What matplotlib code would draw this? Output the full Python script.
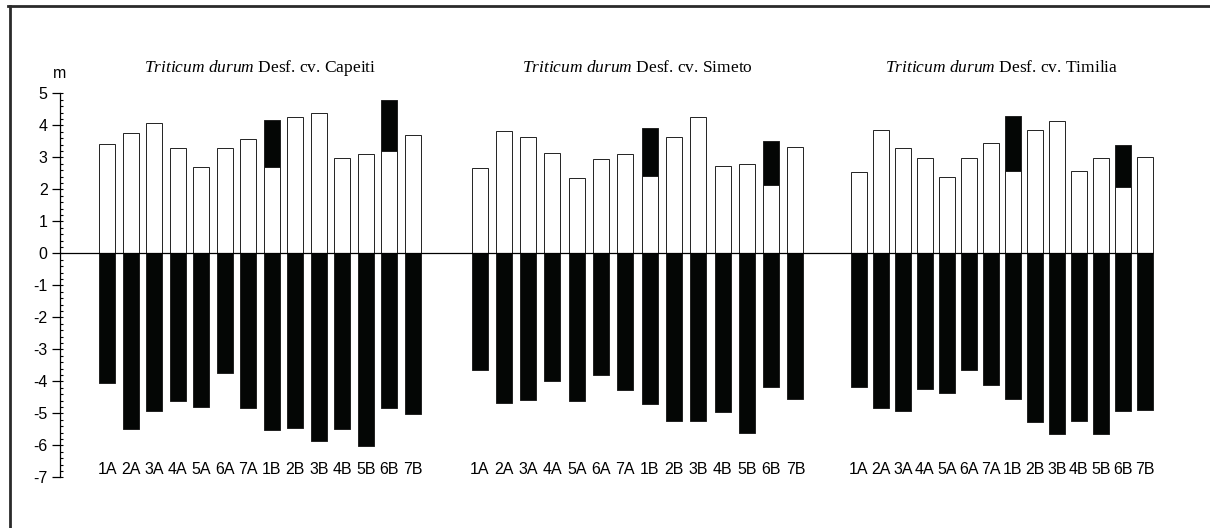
import numpy as np
import matplotlib.pyplot as plt
from matplotlib.lines import Line2D
from matplotlib.ticker import MultipleLocator

plt.rcParams["font.family"] = "Liberation Sans"
plt.rcParams["axes.unicode_minus"] = False
plt.rcParams["mathtext.fontset"] = "custom"
plt.rcParams["mathtext.rm"] = "Liberation Serif"
plt.rcParams["mathtext.it"] = "Liberation Serif:italic"

chromosomes = ["1A", "2A", "3A", "4A", "5A", "6A", "7A",
               "1B", "2B", "3B", "4B", "5B", "6B", "7B"]
cultivars = ["Capeiti", "Simeto", "Timilia"]
nan = np.nan

# white part of the upper bars (m)
white_capeiti = [3.41, 3.75, 4.07, 3.28, 2.70, 3.28, 3.56, 2.69, 4.25, 4.39, 2.99, 3.11, 3.19, 3.69]
white_simeto = [2.67, 3.82, 3.65, 3.15, 2.36, 2.94, 3.09, 2.41, 3.63, 4.27, 2.73, 2.78, 2.14, 3.32]
white_timilia = [2.54, 3.86, 3.29, 2.98, 2.39, 2.98, 3.46, 2.57, 3.86, 4.14, 2.56, 2.97, 2.07, 3.00]

# top of the black cap (only 1B and 6B)
cap_capeiti = [nan, nan, nan, nan, nan, nan, nan, 4.18, nan, nan, nan, nan, 4.78, nan]
cap_simeto = [nan, nan, nan, nan, nan, nan, nan, 3.91, nan, nan, nan, nan, 3.51, nan]
cap_timilia = [nan, nan, nan, nan, nan, nan, nan, 4.28, nan, nan, nan, nan, 3.39, nan]

# lower bars
neg_capeiti = [-4.05, -5.48, -4.92, -4.60, -4.80, -3.73, -4.82, -5.53, -5.45, -5.86, -5.49, -6.01, -4.82, -5.03]
neg_simeto = [-3.66, -4.69, -4.58, -3.99, -4.60, -3.81, -4.28, -4.70, -5.23, -5.24, -4.97, -5.63, -4.17, -4.55]
neg_timilia = [-4.17, -4.82, -4.92, -4.25, -4.35, -3.64, -4.11, -4.55, -5.26, -5.66, -5.24, -5.66, -4.94, -4.89]

whites = [white_capeiti, white_simeto, white_timilia]
caps = [cap_capeiti, cap_simeto, cap_timilia]
negs = [neg_capeiti, neg_simeto, neg_timilia]

# layout of the groups along the axis (pixel-like x units)
group_start = [107.3, 479.5, 858.8]
group_step = [23.5, 24.3, 22.0]
bar_w = 16

fig = plt.figure(figsize=(12.1, 5.28), dpi=100)
ax = fig.add_axes([60 / 1210, (528 - 477.3) / 528, (1180 - 60) / 1210, 384 / 528])
ax.set_xlim(60, 1180)
ax.set_ylim(-7, 5)

for g in range(3):
    x = group_start[g] + group_step[g] * np.arange(len(chromosomes))
    w = np.array(whites[g])
    c = np.array(caps[g])
    ax.bar(x, negs[g], width=bar_w, color="#040605", edgecolor="#222222", linewidth=0.7, zorder=2)
    ax.bar(x, w, width=bar_w, color="white", edgecolor="#222222", linewidth=0.7, zorder=2)
    has = ~np.isnan(c)
    ax.bar(x[has], c[has] - w[has], bottom=w[has], width=bar_w, color="#040605",
           edgecolor="#222222", linewidth=0.7, zorder=2)
    for xi, lab in zip(x, chromosomes):
        ax.text(xi, -6.77, lab, ha="center", va="center", fontsize=11.5)
    xc = (x[0] + x[-1]) / 2
    ax.text(xc, 5.79, r"$\mathit{Triticum\ durum}$ Desf. cv. " + cultivars[g],
            ha="center", va="center", fontsize=12.5, family="Liberation Serif")

ax.hlines(0, 60, 1153, color="black", linewidth=0.9, zorder=3)

for s in ["top", "right", "bottom"]:
    ax.spines[s].set_visible(False)
ax.spines["left"].set_linewidth(0.9)
ax.set_xticks([])
ax.yaxis.set_major_locator(MultipleLocator(1))
ax.yaxis.set_minor_locator(MultipleLocator(0.2))
ax.yaxis.remove_overlapping_locs = False
ax.tick_params(axis="y", which="major", direction="out", length=6, width=0.9, labelsize=11.5, pad=3)
ax.tick_params(axis="y", which="minor", direction="in", length=2.5, width=0.8)
ax.text(60, 5.63, "m", ha="center", va="center", fontsize=11.5, clip_on=False)

# frame lines (top and left only visible)
fig.add_artist(Line2D([8 / 1210, 1], [1 - 6 / 528, 1 - 6 / 528], color="#2a2a2a", linewidth=2))
fig.add_artist(Line2D([9.5 / 1210, 9.5 / 1210], [0, 1 - 6 / 528], color="#2a2a2a", linewidth=2))

fig.savefig("out.png", dpi=100)
